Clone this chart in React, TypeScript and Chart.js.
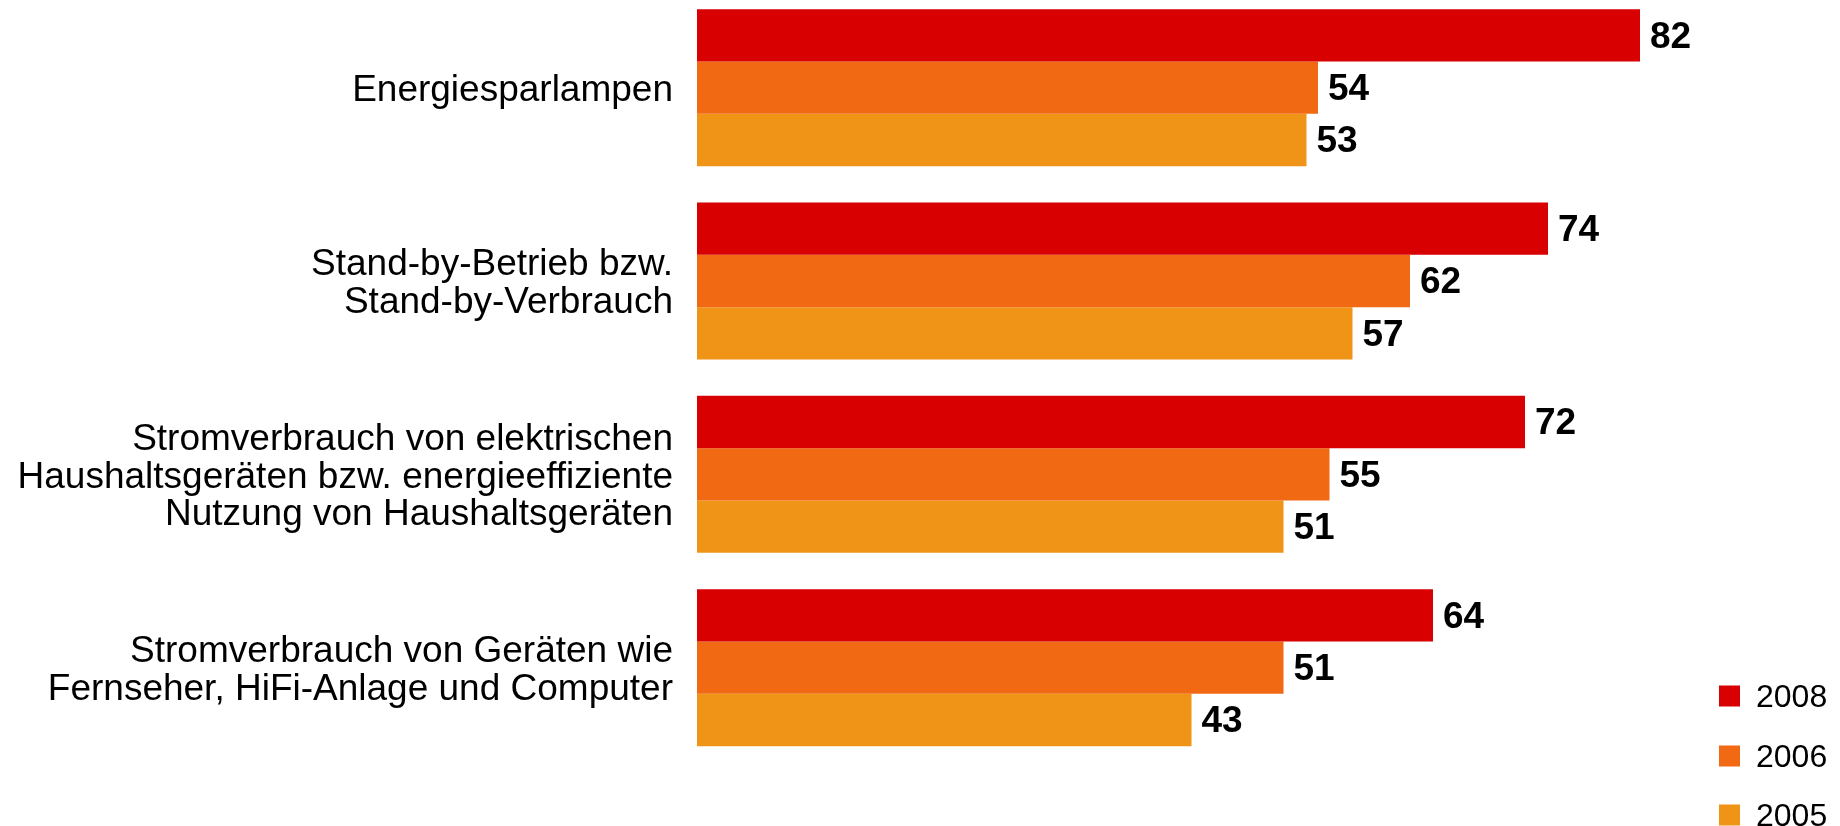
import React, { useEffect, useRef } from "react";
import { Chart, registerables } from "chart.js";

Chart.register(...registerables);

const categories: (string | string[])[] = [
  "Energiesparlampen",
  ["Stand-by-Betrieb bzw.", "Stand-by-Verbrauch"],
  ["Stromverbrauch von elektrischen", "Haushaltsgeräten bzw. energieeffiziente", "Nutzung von Haushaltsgeräten"],
  ["Stromverbrauch von Geräten wie", "Fernseher, HiFi-Anlage und Computer"],
];
const seriesLabels = ["2008", "2006", "2005"];
const values2008 = [82, 74, 72, 64];
const values2006 = [54, 62, 55, 51];
const values2005 = [53, 57, 51, 43];
const colors = ["#d80000", "#f16913", "#ef9416"];

const FONT = "'Liberation Sans', Arial, Helvetica, sans-serif";

const valueLabels = {
  id: "valueLabels",
  afterDatasetsDraw(chart: any) {
    const ctx = chart.ctx;
    ctx.save();
    ctx.font = `bold 37px ${FONT}`;
    ctx.fillStyle = "#000";
    ctx.textAlign = "left";
    ctx.textBaseline = "middle";
    chart.data.datasets.forEach((ds: any, i: number) => {
      const meta = chart.getDatasetMeta(i);
      meta.data.forEach((el: any, j: number) => {
        ctx.fillText(String(ds.data[j]), el.x + 10, el.y + 2);
      });
    });
    ctx.restore();
  },
};

const sideLegend = {
  id: "sideLegend",
  afterDraw(chart: any) {
    const ctx = chart.ctx;
    ctx.save();
    ctx.font = `32px ${FONT}`;
    ctx.textAlign = "left";
    ctx.textBaseline = "middle";
    const centers = [705, 765, 824];
    chart.data.datasets.forEach((ds: any, i: number) => {
      const cy = centers[i];
      ctx.fillStyle = ds.backgroundColor;
      ctx.fillRect(1719, cy - 10.5, 21, 21);
      ctx.fillStyle = "#000";
      ctx.fillText(ds.label, 1756, cy + 2);
    });
    ctx.restore();
  },
};

export default function App() {
  const ref = useRef<HTMLCanvasElement>(null);
  useEffect(() => {
    document.body.style.margin = "0";
    document.body.style.overflow = "hidden";
    const chart = new Chart(ref.current!, {
      type: "bar",
      data: {
        labels: categories,
        datasets: [
          { label: seriesLabels[0], data: values2008, backgroundColor: colors[0] },
          { label: seriesLabels[1], data: values2006, backgroundColor: colors[1] },
          { label: seriesLabels[2], data: values2005, backgroundColor: colors[2] },
        ],
      },
      options: {
        indexAxis: "y",
        animation: false,
        responsive: false,
        maintainAspectRatio: false,
        datasets: { bar: { barPercentage: 1, categoryPercentage: 0.812 } },
        layout: { padding: { top: 0, bottom: 62.7, left: 0, right: 108 } },
        plugins: { legend: { display: false }, tooltip: { enabled: false } },
        scales: {
          x: { display: false, min: 0, max: 90 },
          y: {
            grid: { display: false, drawTicks: false },
            border: { display: false },
            ticks: {
              padding: 24,
              labelOffset: 3,
              color: "#000",
              font: { family: FONT, size: 37, lineHeight: 1.02 },
              autoSkip: false,
            },
            afterFit(scale: any) {
              scale.width = 697;
              scale.paddingTop = 0;
              scale.paddingBottom = 0;
            },
          },
        },
      },
      plugins: [valueLabels, sideLegend],
    } as any);
    return () => chart.destroy();
  }, []);
  return (
    <div style={{ position: "fixed", left: 0, top: -9, width: 1840, height: 836 }}>
      <canvas ref={ref} width={1840} height={836} style={{ width: 1840, height: 836, display: "block" }} />
    </div>
  );
}
